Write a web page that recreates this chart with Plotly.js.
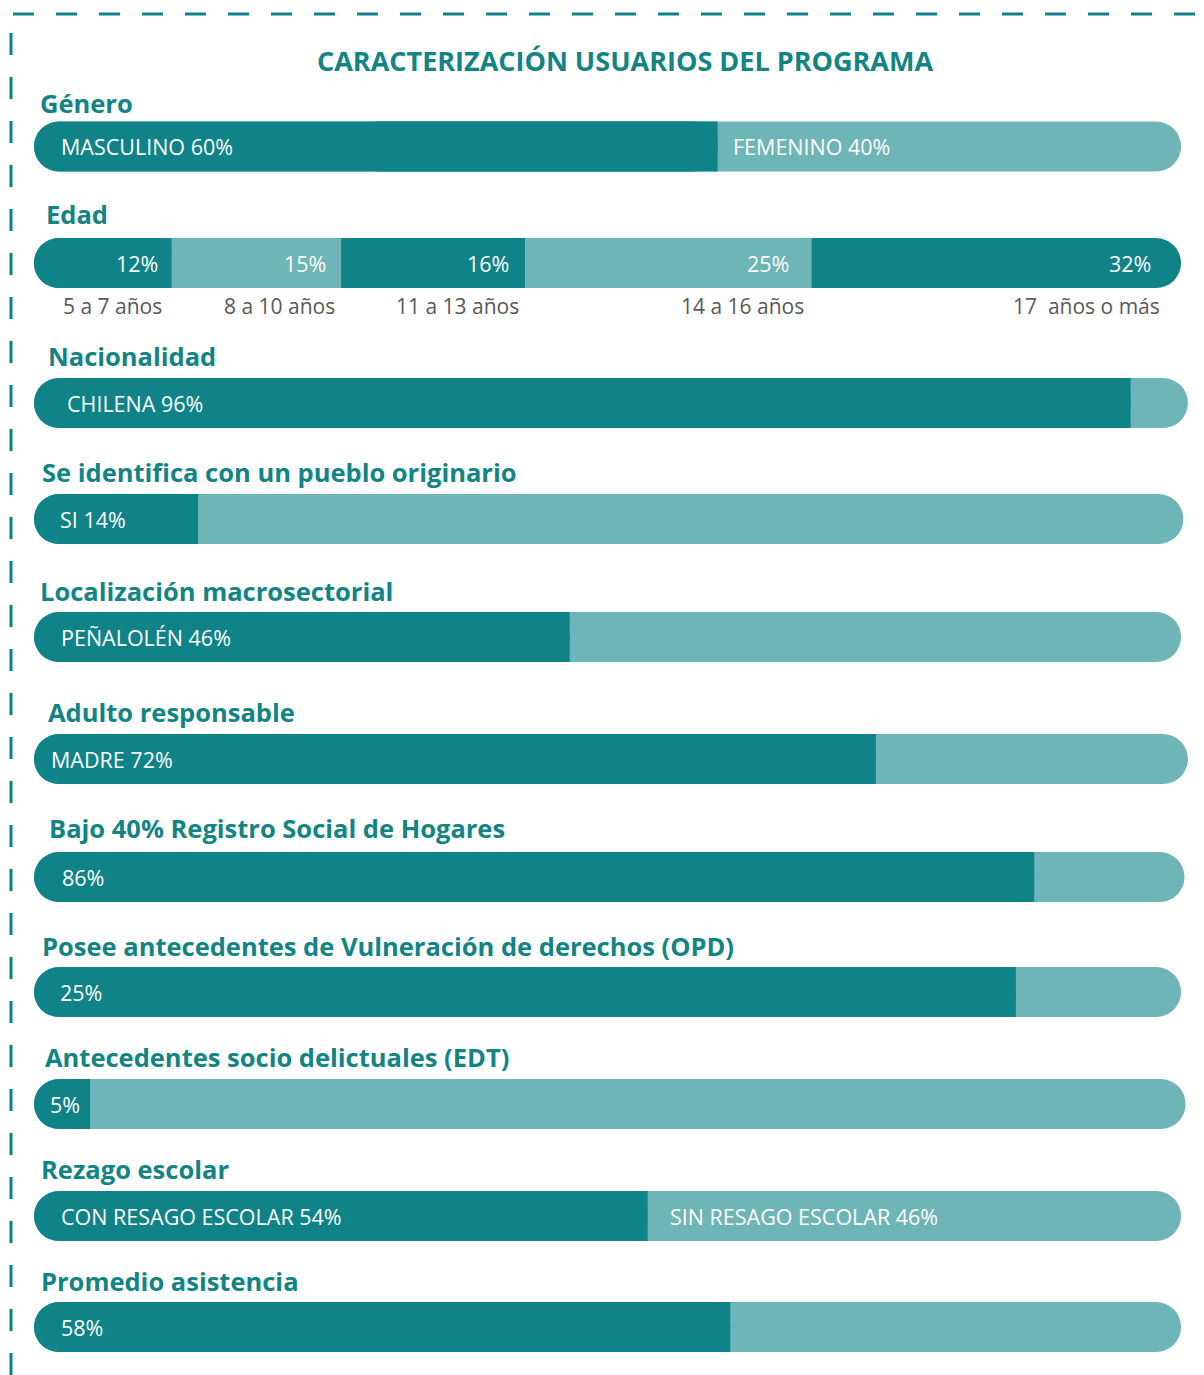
<!DOCTYPE html>
<html>
<head>
<meta charset="utf-8">
<script src="https://cdn.plot.ly/plotly-3.0.1.min.js"></script>
<style>
  html, body { margin: 0; padding: 0; background: #ffffff; }
  #chart { width: 1204px; height: 1375px; }
</style>
</head>
<body>
<div id="chart"></div>
<script>
// ---------------- DATA ----------------
const chartTitle = 'CARACTERIZACIÓN USUARIOS DEL PROGRAMA';
const categories = [
  'Género',
  'Edad',
  'Nacionalidad',
  'Se identifica con un pueblo originario',
  'Localización macrosectorial',
  'Adulto responsable',
  'Bajo 40% Registro Social de Hogares',
  'Posee antecedentes de Vulneración de derechos (OPD)',
  'Antecedentes socio delictuales (EDT)',
  'Rezago escolar',
  'Promedio asistencia'
];
const generoValues = [59.6, 40.4];
const generoLabels = ['MASCULINO 60%', 'FEMENINO 40%'];

const edadValues = [12, 14.8, 16, 25, 32.2];
const edadLabels = ['12%', '15%', '16%', '25%', '32%'];
const edadGroups = ['5 a 7 años', '8 a 10 años', '11 a 13 años', '14 a 16 años', '17  años o más'];

// rows 3..11: main share (dark) and remainder (light), as drawn
const shareValues = [95.6, 14.3, 46.7, 73.4, 87.2, 85.6, 4.9, 53.5, 60.7];
const restValues  = [5.0, 85.9, 53.3, 27.2, 13.1, 14.4, 95.5, 46.5, 39.3];
const shareLabels = ['CHILENA 96%', 'SI 14%', 'PEÑALOLÉN 46%', 'MADRE 72%', '86%', '25%', '5%', 'CON RESAGO ESCOLAR 54%', '58%'];
const restLabels  = ['', '', '', '', '', '', '', 'SIN RESAGO ESCOLAR 46%', ''];

// ---------------- LAYOUT / STYLE ----------------
const W = 1204, H = 1375;
const DARK = '#0F8387', LIGHT = '#6EB5B7', TITLE = '#128484', GRAY = '#595959';
const FONT = '"Open Sans", "Noto Sans", sans-serif';
const rowY   = [146.5, 263, 403, 519, 637, 759, 877, 992, 1104, 1216, 1327];
const titleY = [103, 214, 356, 472, 591, 712, 828, 946, 1057, 1169, 1281];
const titleXpx = [38, 44, 46, 40, 38, 46, 47, 40, 43, 39, 39];
const firstLabelShift = [25, 0, 31, 24, 25, 15, 26, 24, 14, 25, 25];
const secondLabelShift = [13, 0, 0, 0, 0, 0, 0, 0, 0, 20, 0];
const agePctShift = [-12, -13, -14, -21, -28];
const ageGroupShift = [-8, -4, -4, -6, -19];
const BAR_H = 50;
const RADIUS = 25;
// x scale: 0 -> 34px, 100 -> 1183px; axis padded by 2 units on each side
const PX0 = 34, PX100 = 1183, PAD = 2;
const PXU = (PX100 - PX0) / 100;

// build segments per row
const rows = [];
rows.push({ vals: generoValues, labels: generoLabels });
rows.push({ vals: edadValues, labels: edadLabels });
shareValues.forEach((v, i) => {
  rows.push({ vals: [v, restValues[i]], labels: [shareLabels[i], restLabels[i]] });
});

const mk = () => ({ x: [], base: [], y: [], c: [] });
const bg = mk(), first = mk(), firstSquare = mk(), mid = mk();
const annotations = [];

rows.forEach((row, r) => {
  const n = row.vals.length;
  const total = row.vals.reduce((a, b) => a + b, 0);
  bg.x.push(total); bg.base.push(0); bg.y.push(rowY[r]);
  bg.c.push(((n - 1) % 2 === 0) ? DARK : LIGHT);
  const v0 = row.vals[0];
  firstSquare.x.push(v0 / 2); firstSquare.base.push(v0 / 2); firstSquare.y.push(rowY[r]); firstSquare.c.push(DARK);
  first.x.push(v0); first.base.push(0); first.y.push(rowY[r]); first.c.push(DARK);
  let cum = v0;
  for (let k = 1; k < n - 1; k++) {
    mid.x.push(row.vals[k]); mid.base.push(cum); mid.y.push(rowY[r]);
    mid.c.push((k % 2 === 0) ? DARK : LIGHT);
    cum += row.vals[k];
  }
});

annotations.push({
  text: '<b>' + chartTitle + '</b>', xref: 'paper', yref: 'paper',
  x: 625 / W, y: 1 - 60 / H, xanchor: 'center', yanchor: 'middle', showarrow: false,
  font: { family: FONT, size: 27, color: TITLE }
});
categories.forEach((c, r) => {
  annotations.push({
    text: '<b>' + c + '</b>', xref: 'paper', yref: 'paper',
    x: titleXpx[r] / W, y: 1 - titleY[r] / H, xanchor: 'left', yanchor: 'middle', showarrow: false,
    font: { family: FONT, size: 25.5, color: TITLE }
  });
});

rows.forEach((row, r) => {
  if (r === 1) {
    let cum = 0;
    row.vals.forEach((v, k) => {
      cum += v;
      annotations.push({
        text: row.labels[k], xref: 'x', yref: 'y', x: cum, y: rowY[r],
        xanchor: 'right', yanchor: 'middle', xshift: agePctShift[k], showarrow: false,
        font: { family: FONT, size: 21.5, color: '#ffffff' }
      });
      annotations.push({
        text: edadGroups[k], xref: 'x', yref: 'y', x: cum, y: 306,
        xanchor: 'right', yanchor: 'middle', xshift: ageGroupShift[k], showarrow: false,
        font: { family: FONT, size: 21, color: GRAY }
      });
    });
  } else {
    annotations.push({
      text: row.labels[0], xref: 'x', yref: 'y', x: 0, y: rowY[r],
      xanchor: 'left', yanchor: 'middle', xshift: firstLabelShift[r], showarrow: false,
      font: { family: FONT, size: 21.5, color: '#ffffff' }
    });
    if (row.labels[1]) {
      annotations.push({
        text: row.labels[1], xref: 'x', yref: 'y', x: row.vals[0], y: rowY[r],
        xanchor: 'left', yanchor: 'middle', xshift: secondLabelShift[r], showarrow: false,
        font: { family: FONT, size: 21.5, color: '#ffffff' }
      });
    }
  }
});

const mkTrace = (d, radius) => ({
  type: 'bar', orientation: 'h', x: d.x, base: d.base, y: d.y, width: BAR_H,
  marker: { color: d.c, line: { width: 0 }, cornerradius: radius },
  hoverinfo: 'skip', showlegend: false
});

const data = [mkTrace(bg, RADIUS), mkTrace(firstSquare, 0), mkTrace(first, RADIUS), mkTrace(mid, 0)];

const layout = {
  width: W, height: H,
  margin: { l: 0, r: 0, t: 0, b: 0 },
  paper_bgcolor: '#ffffff', plot_bgcolor: '#ffffff',
  barmode: 'overlay',
  showlegend: false,
  xaxis: { domain: [(PX0 - PAD * PXU) / W, (PX100 + PAD * PXU) / W], range: [-PAD, 100 + PAD],
           visible: false, fixedrange: true },
  yaxis: { domain: [0, 1], range: [H, 0], visible: false, fixedrange: true },
  annotations: annotations,
  shapes: [
    { type: 'line', xref: 'paper', yref: 'paper', x0: 13 / W, x1: 1, y0: 1 - 14 / H, y1: 1 - 14 / H,
      line: { color: DARK, width: 3, dash: '21px,22px' } },
    { type: 'line', xref: 'paper', yref: 'paper', x0: 11 / W, x1: 11 / W, y0: 1 - 33 / H, y1: 0,
      line: { color: DARK, width: 3, dash: '22px,22px' } }
  ]
};

Plotly.newPlot('chart', data, layout, { staticPlot: true, displayModeBar: false });
</script>
</body>
</html>
